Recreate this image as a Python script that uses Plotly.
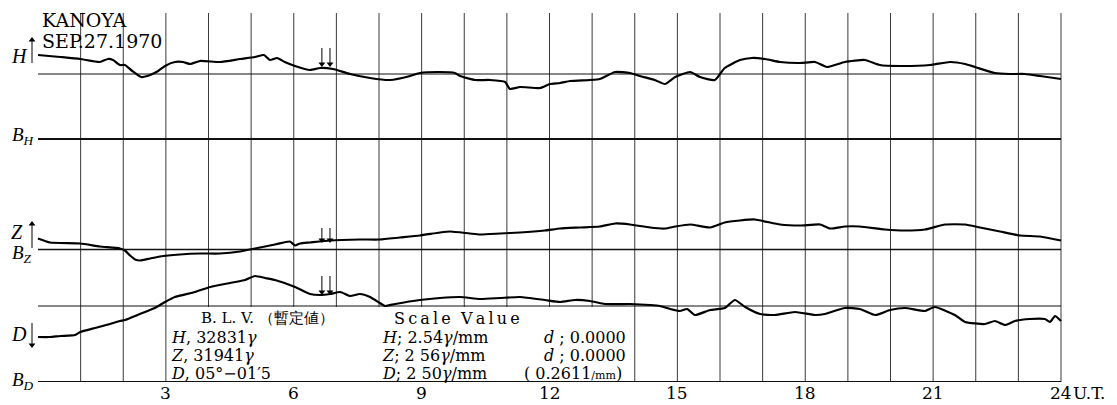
import plotly.graph_objects as go

# ---- data (hours UT, trace offsets from each baseline, in chart mm-units, positive = up) ----
h_time = [0.00, 0.52, 0.99, 1.45, 1.64, 1.76, 1.92, 2.04, 2.21, 2.42, 2.63, 2.82, 2.98, 3.21, 3.40, 3.57,
          3.80, 4.27, 4.74, 5.09, 5.30, 5.44, 5.61, 5.79, 6.03, 6.38, 6.62, 6.92, 7.32, 7.79, 8.26, 8.73,
          8.96, 9.43, 9.78, 9.90, 10.25, 10.60, 10.96, 11.07, 11.31, 11.78, 12.01, 12.25, 12.48, 12.95,
          13.18, 13.54, 13.89, 14.12, 14.47, 14.71, 14.95, 15.30, 15.53, 15.88, 16.11, 16.47, 16.75,
          17.06, 17.41, 17.88, 18.23, 18.51, 18.93, 19.40, 19.75, 20.22, 20.93, 21.40, 21.75, 21.98,
          22.45, 22.80, 23.16, 23.51, 24.00]
h_val = [19, 17, 15, 12, 15, 14, 9, 9, 3, -3, -1, 3, 8, 12, 12, 10, 13, 12, 15, 17, 19, 14, 16, 12, 8, 4,
         6, 5, 0, -4, -6, -2, 1, 2, 1, -2, -6, -6, -8, -15, -13, -14, -10, -9, -7, -6, -5, 2, 1, -2, -6,
         -10, -3, 2, -3, -6, 6, 14, 16, 15, 12, 11, 12, 7, 12, 14, 9, 8, 9, 12, 10, 7, 1, 0, 0, -2, -5]

z_time = [0.00, 0.28, 0.99, 1.45, 1.92, 2.04, 2.16, 2.28, 2.39, 2.63, 2.86, 3.33, 3.80, 4.27, 4.74, 5.09,
          5.56, 5.91, 6.03, 6.15, 6.38, 6.85, 7.55, 8.02, 8.49, 8.96, 9.43, 9.67, 10.13, 10.37, 10.84,
          11.31, 11.89, 12.25, 12.72, 13.18, 13.54, 13.89, 14.36, 14.71, 14.95, 15.30, 15.77, 16.11,
          16.47, 16.82, 17.41, 17.88, 18.35, 18.58, 18.93, 19.28, 19.87, 20.34, 20.81, 21.28, 21.75,
          22.10, 22.57, 23.04, 23.51, 24.00]
z_val = [11, 7, 6, 3, 1, -1, -6, -10, -11, -9, -7, -5, -4, -4, -2, 1, 5, 8, 4, 6, 7, 9, 10, 10, 12, 14, 17,
         18, 16, 15, 16, 17, 19, 21, 22, 23, 26, 25, 22, 21, 23, 25, 22, 27, 29, 30, 25, 24, 25, 21, 23,
         23, 20, 19, 20, 25, 25, 22, 18, 14, 13, 9]

d_time = [0.00, 0.28, 0.52, 0.87, 0.99, 1.34, 1.69, 1.92, 2.04, 2.39, 2.74, 2.98, 3.21, 3.68, 4.04, 4.50,
          4.86, 5.09, 5.33, 5.56, 6.03, 6.38, 6.62, 6.85, 7.09, 7.32, 7.55, 7.79, 8.02, 8.14, 8.38, 8.96,
          9.43, 9.90, 10.37, 10.84, 11.31, 11.89, 12.25, 12.60, 12.95, 13.30, 13.89, 14.36, 14.59, 14.83,
          15.06, 15.23, 15.41, 15.77, 16.11, 16.35, 16.59, 16.94, 17.29, 17.76, 18.23, 18.46, 18.93,
          19.28, 19.64, 19.99, 20.34, 20.81, 21.04, 21.51, 21.75, 22.22, 22.45, 22.69, 22.92, 23.27,
          23.62, 23.74, 23.86, 24.00]
d_val = [-31, -31, -30, -29, -26, -22, -18, -15, -14, -8, -2, 4, 9, 14, 19, 23, 26, 30, 28, 26, 19, 12, 11,
         12, 14, 10, 12, 9, 3, 0, 2, 6, 8, 9, 7, 8, 9, 6, 4, 6, 5, 2, 2, 1, 0, -3, -5, -3, -9, -4, -2, 6,
         -1, -8, -9, -6, -9, -8, -2, -3, -9, -4, -2, -5, -1, -9, -16, -18, -15, -19, -15, -13, -13, -16,
         -10, -15]

hour_ticks = [3, 6, 9, 12, 15, 18, 21, 24]
hour_tick_text = ["3", "6", "9", "12", "15", "18", "21", "24"]
sudden_marks = [6.66, 6.85]  # double arrow marks

# ---- layout constants ----
W, H = 1117, 405
PX_PER_HOUR = 42.625
X0_PX = 38.0
PLOT_H = 382  # plot area height (px), y units == px
base_h, base_bh, base_z, base_d, base_bd = 308, 243, 132.5, 76, 0
grid_top = 369
box_top = 75  # text box top
SERIF = "DejaVu Serif"
TIMES = "Liberation Serif"


def hx(px):
    return (px - X0_PX) / PX_PER_HOUR


def py(p):
    return PLOT_H - p


fig = go.Figure()

shapes = []
for hr in range(1, 25):
    y0 = box_top if 4 <= hr <= 13 else base_bd
    shapes.append(dict(type="line", x0=hr, x1=hr, y0=y0, y1=grid_top,
                       line=dict(color="#3a3a3a", width=1), layer="below"))
for yb, wdt in [(base_h, 1), (base_bh, 2), (base_z, 1.5), (base_d, 1), (base_bd, 2)]:
    shapes.append(dict(type="line", x0=0, x1=24, y0=yb, y1=yb,
                       line=dict(color="#111", width=wdt), layer="below"))

for t, v, b in [(h_time, h_val, base_h), (z_time, z_val, base_z), (d_time, d_val, base_d)]:
    fig.add_trace(go.Scatter(x=t, y=[b + vv for vv in v], mode="lines",
                             line=dict(color="black", width=2.2, shape="spline", smoothing=0.5),
                             hoverinfo="skip", showlegend=False))


# arrows: thin shaft + small triangle head
def arrow(x, y_tail, y_tip):
    up = y_tip > y_tail
    head_y = y_tip - 3 if up else y_tip + 3
    fig.add_trace(go.Scatter(x=[x, x], y=[y_tail, head_y], mode="lines",
                             line=dict(color="black", width=1), hoverinfo="skip", showlegend=False))
    fig.add_trace(go.Scatter(x=[x], y=[head_y], mode="markers",
                             marker=dict(symbol="triangle-up" if up else "triangle-down", size=6,
                                         color="black", line=dict(width=0)),
                             hoverinfo="skip", showlegend=False))


arrow(hx(32), py(63), py(37))     # H up
arrow(hx(32), py(248), py(221))   # Z up
arrow(hx(32), py(323), py(348))   # D down
for m in sudden_marks:
    arrow(m, py(48), py(67))
    arrow(m, py(228), py(243))
    arrow(m, py(276), py(295))

ann = []


def txt(x, y, s, size=16, xanchor="left", yanchor="middle", family=SERIF, yref="y"):
    ann.append(dict(x=x, y=y, xref="x", yref=yref, text=s, showarrow=False,
                    xanchor=xanchor, yanchor=yanchor,
                    font=dict(family=family, size=size, color="black")))


# title
txt(hx(40), py(20), "KANOYA", size=19)
txt(hx(40), py(41), "SEP.27.1970", size=19)

# left labels
txt(hx(9), py(56), "<i>H</i>", size=20, family=TIMES)
txt(hx(10), py(136), "<i>B</i><sub><i>H</i></sub>", size=19, family=TIMES)
txt(hx(9), py(232), "<i>Z</i>", size=20, family=TIMES)
txt(hx(10), py(254), "<i>B</i><sub><i>Z</i></sub>", size=19, family=TIMES)
txt(hx(9), py(334), "<i>D</i>", size=20, family=TIMES)
txt(hx(10), py(381), "<i>B</i><sub><i>D</i></sub>", size=19, family=TIMES)

# text box
T = "\u2009"
txt(hx(267), py(318), "B. L. V. （暫定値）", size=15, xanchor="center")
txt(hx(169), py(337), "<i>H</i>, 32831<i>γ</i>", size=16)
txt(hx(169), py(355), "<i>Z</i>, 31941<i>γ</i>", size=16)
txt(hx(169), py(373), "<i>D</i>, 05°−01′5", size=16)
txt(hx(457), py(318), T.join("Scale") + "  " + T.join("Value"), size=16, xanchor="center")
txt(hx(380), py(337), "<i>H</i>; 2.54<i>γ</i>/mm", size=16)
txt(hx(380), py(355), "<i>Z</i>; 2 56<i>γ</i>/mm", size=16)
txt(hx(380), py(373), "<i>D</i>; 2 50<i>γ</i>/mm", size=16)
txt(hx(542), py(337), "<i>d</i> ; 0.0000", size=16)
txt(hx(542), py(355), "<i>d</i> ; 0.0000", size=16)
txt(hx(522), py(373), "( 0.2611<span style='font-size:11px'>/mm</span>)", size=16)

# hour tick labels along the bottom (below the plot area -> paper y)
tick_y = (PLOT_H - 393) / PLOT_H
for tv, tt in zip(hour_ticks, hour_tick_text):
    txt(tv, tick_y, tt, size=17, xanchor="center", yref="paper")
txt(hx(1071), tick_y, "U.T.", size=17, yref="paper")

fig.update_layout(
    width=W, height=H, margin=dict(l=0, r=0, t=0, b=H - PLOT_H),
    paper_bgcolor="white", plot_bgcolor="white",
    shapes=shapes, annotations=ann, showlegend=False,
    xaxis=dict(range=[hx(0), hx(W)], showgrid=False, zeroline=False, showline=False,
               showticklabels=False, ticks="", automargin=False),
    yaxis=dict(range=[0, PLOT_H], showgrid=False, zeroline=False, showline=False,
               showticklabels=False, ticks="", automargin=False),
)

fig.write_html("out.html", config={"displayModeBar": False},
               post_script="document.body.style.margin='0px';")
